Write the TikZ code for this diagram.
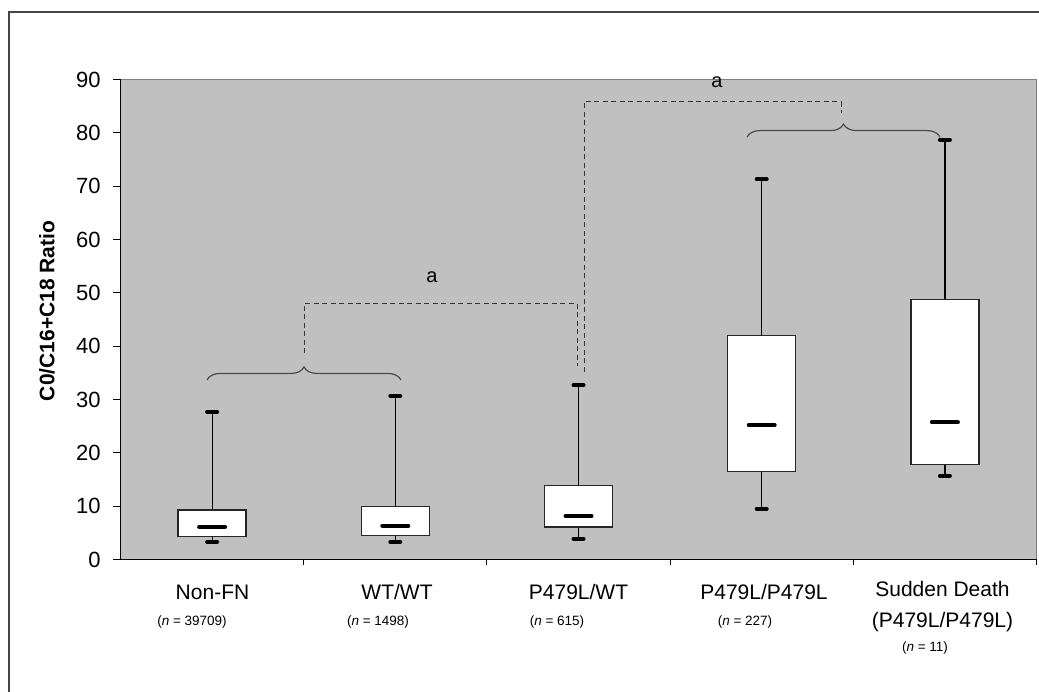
\documentclass[tikz,border=0pt]{standalone}
\usepackage{fontspec}
\setmainfont{Liberation Sans}
\usetikzlibrary{decorations.pathreplacing}
\definecolor{plotgray}{RGB}{192,192,192}
\definecolor{edgegray}{RGB}{128,128,128}
\definecolor{framegray}{RGB}{70,70,70}
\tikzstyle{plotarea} = [fill=plotgray, draw=edgegray, line width=1.6pt]
\tikzstyle{axis} = [black, line width=1.2pt]
\tikzstyle{axtick} = [black, line width=1pt]
\tikzstyle{ticklab} = [anchor=east, inner sep=0pt, font=\fontsize{22}{26}\selectfont]
\tikzstyle{catlab} = [inner sep=0pt, align=center, font=\fontsize{21}{31}\selectfont]
\tikzstyle{nlab} = [inner sep=0pt, font=\fontsize{13.5}{16}\selectfont]
\tikzstyle{whisker} = [black, line width=1.2pt]
\tikzstyle{qbox} = [draw=black!85, fill=white, line width=1.3pt]
\tikzstyle{whiskercap} = [black, line width=4pt, line cap=round]
\tikzstyle{median} = [black, line width=4pt, line cap=round]
\tikzstyle{brace} = [decorate, decoration={brace, amplitude=13pt}, line width=1.2pt, draw=black!70]
\tikzstyle{link} = [draw=black!80, line width=1pt, dash pattern=on 5pt off 3.5pt]
\tikzstyle{sig} = [inner sep=0pt, font=\fontsize{20}{24}\selectfont]
\newcommand{\drawbox}[6]{%
  \draw[whisker] (#1,#2) -- (#1,#3);
  \draw[whisker] (#1,#5) -- (#1,#6);
  \draw[qbox] (#1-34,#3) rectangle (#1+34,#5);
  \draw[median] (#1-13,#4) -- (#1+13,#4);
  \draw[whiskercap] (#1-5,#2) -- (#1+5,#2);
  \draw[whiskercap] (#1-5,#6) -- (#1+5,#6);
}

\begin{document}
\begin{tikzpicture}[x=1pt,y=1pt]
\useasboundingbox (0,0) rectangle (1039,692);
\draw[framegray, line width=1.5pt] (9,680) rectangle (1050,-10);

\begin{scope}[shift={(0,132.5)}, y=5.3333pt]
\draw[plotarea] (120.5,0) rectangle (1036.5,90);
\draw[axis] (120.5,90) -- (120.5,0) -- (1036.5,0);
\foreach \v in {0,10,...,90}
  \draw[axtick] (113,\v) -- (120.5,\v) node[ticklab, at start, xshift=-12pt] (yt\v) {\v};
\foreach \t in {303.7,486.9,670.1,853.3,1036.5}
  \draw[axtick] (\t,0) -- ++(0,-6pt);
\node[rotate=90, font=\bfseries\fontsize{21}{24}\selectfont] (ylab) at (47,46.6) {C0/C16+C18 Ratio};

\drawbox{212.1}{3.3}{4.3}{6.1}{9.3}{27.7}
\drawbox{395.3}{3.3}{4.5}{6.35}{10.0}{30.7}
\drawbox{578.5}{3.9}{6.1}{8.2}{13.9}{32.7}
\drawbox{761.7}{9.5}{16.5}{25.2}{42.0}{71.3}
\drawbox{944.9}{15.7}{17.85}{25.7}{48.7}{78.7}

\draw[brace] (207,33.66) -- (401,33.66);
\draw[brace] (747,79.2) -- (940,79.2);
\coordinate (endA) at (304,38.7);
\coordinate (topA) at (440,48.0);
\coordinate (legA) at (577,36.3);
\coordinate (legB) at (584,35.2);
\coordinate (topB) at (712,85.84);
\coordinate (endB) at (841,83.7);
\draw[link] (endA) |- (topA) -| (legA);
\draw[link] (legB) |- (topB) -| (endB);
\node[sig] (sigA) at (432,53.0) {a};
\node[sig] (sigB) at (717,89.4) {a};
\end{scope}

\node[catlab] (nonfn) at (212.5,100) {Non-FN};
\node[catlab] (wtwt) at (397,100) {WT/WT};
\node[catlab] (hetero) at (578.5,100) {P479L/WT};
\node[catlab] (homo) at (764,100) {P479L/P479L};
\node[catlab, anchor=north] (sudden) at (942.5,111) {Sudden Death\\(P479L/P479L)};
\node[nlab] (nnonfn) at (192,70.3) {(\textit{n} = 39709)};
\node[nlab] (nwtwt) at (378,70.3) {(\textit{n} = 1498)};
\node[nlab] (nhetero) at (557,70.3) {(\textit{n} = 615)};
\node[nlab] (nhomo) at (745,70.3) {(\textit{n} = 227)};
\node[nlab] (nsudden) at (925,44) {(\textit{n} = 11)};
\end{tikzpicture}
\end{document}
